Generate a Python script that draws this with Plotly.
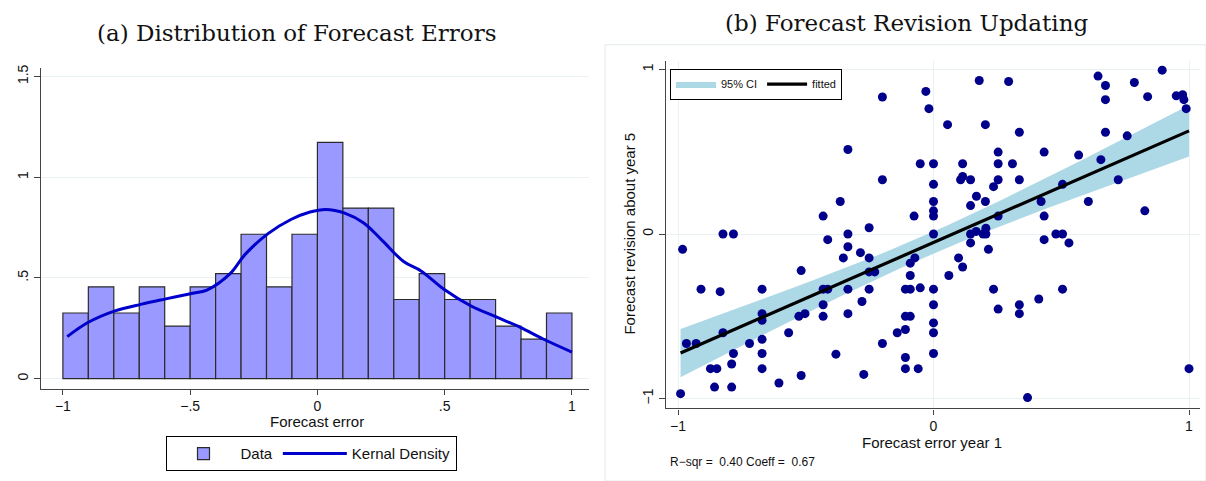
import numpy as np
import plotly.graph_objects as go

# ---------------- Panel (a) data ----------------
bin_left = [-1.0, -0.9, -0.8, -0.7, -0.6, -0.5, -0.4, -0.3, -0.2, -0.1,
            0.0, 0.1, 0.2, 0.3, 0.4, 0.5, 0.6, 0.7, 0.8, 0.9]
bin_density = [0.326, 0.456, 0.326, 0.456, 0.261, 0.456, 0.521, 0.717, 0.456, 0.717,
               1.173, 0.847, 0.847, 0.393, 0.521, 0.393, 0.393, 0.261, 0.196, 0.326]
kde_x = [-0.983, -0.9, -0.795, -0.69, -0.6, -0.494, -0.434, -0.344, -0.284, -0.194,
         -0.104, -0.029, 0.032, 0.107, 0.182, 0.257, 0.34, 0.407, 0.497, 0.602,
         0.707, 0.797, 0.887, 1.0]
kde_y = [0.209, 0.28, 0.337, 0.37, 0.395, 0.423, 0.44, 0.52, 0.617, 0.72,
         0.79, 0.827, 0.84, 0.822, 0.773, 0.683, 0.58, 0.535, 0.444, 0.362,
         0.304, 0.255, 0.197, 0.132]
a_yticks = [0, 0.5, 1, 1.5]
a_yticklabels = ["0", ".5", "1", "1.5"]
a_xticks = [-1, -0.5, 0, 0.5, 1]
a_xticklabels = ["\u22121", "\u2212.5", "0", ".5", "1"]

# ---------------- Panel (b) data ----------------
err_year1 = [
    -0.982, -0.99, -0.967, -0.929, -0.91, -0.835, -0.824, -0.783, -0.824, -0.783,
    -0.79, -0.873, -0.848, -0.857, -0.79, -0.72, -0.671, -0.671, -0.671, -0.671,
    -0.671, -0.671, -0.605, -0.567, -0.518, -0.527, -0.503, -0.518, -0.432, -0.414,
    -0.432, -0.414, -0.432, -0.432, -0.382, -0.365, -0.335, -0.335, -0.335, -0.353,
    -0.335, -0.335, -0.286, -0.252, -0.252, -0.252, -0.23, -0.252, -0.28, -0.273,
    -0.2, -0.2, -0.2, -0.142, -0.11, -0.091, -0.11, -0.091, -0.11, -0.11,
    -0.11, -0.06, -0.091, -0.091, -0.073, -0.076, -0.052, -0.052, -0.03, -0.018,
    0.0, 0.0, 0.0, 0.0, 0.0, 0.0, 0.0, 0.0, 0.0, 0.0,
    0.0, 0.055, 0.06, 0.098, 0.114, 0.114, 0.106, 0.114, 0.145, 0.145,
    0.145, 0.145, 0.168, 0.167, 0.179, 0.194, 0.205, 0.205, 0.203, 0.203,
    0.215, 0.235, 0.235, 0.253, 0.253, 0.253, 0.253, 0.253, 0.294, 0.309,
    0.336, 0.336, 0.336, 0.336, 0.368, 0.412, 0.421, 0.433, 0.433, 0.433,
    0.479, 0.505, 0.505, 0.505, 0.53, 0.568, 0.606, 0.644, 0.655, 0.673,
    0.673, 0.673, 0.723, 0.758, 0.786, 0.827, 0.838, 0.895, 0.95, 0.975,
    0.98, 0.989, 1.0]
rev_year5 = [
    -0.093, -0.97, -0.665, -0.665, -0.335, -0.35, 0.0, 0.0, -0.6, -0.726,
    -0.79, -0.818, -0.818, -0.93, -0.93, -0.665, -0.335, -0.484, -0.524, -0.64,
    -0.726, -0.818, -0.905, -0.6, -0.222, -0.5, -0.484, -0.86, 0.109, -0.034,
    -0.335, -0.335, -0.43, -0.5, -0.73, 0.198, 0.514, 0.0, -0.077, -0.145,
    -0.335, -0.484, -0.113, 0.038, -0.145, -0.23, -0.23, -0.335, -0.41, -0.853,
    0.833, 0.33, -0.665, -0.6, -0.335, -0.335, -0.5, -0.5, -0.58, -0.75,
    -0.818, -0.818, -0.252, -0.177, -0.145, 0.109, 0.427, -0.327, 0.867, 0.762,
    0.427, 0.302, 0.198, 0.141, 0.109, 0.0, -0.335, -0.43, -0.54, -0.6,
    -0.726, 0.665, -0.252, -0.145, -0.2, 0.427, 0.33, 0.35, 0.33, 0.173,
    0.0, -0.054, 0.23, 0.016, 0.933, 0.0, 0.0, 0.036, 0.665, 0.198,
    -0.093, 0.288, -0.335, 0.498, 0.427, 0.33, 0.109, -0.456, 0.927, 0.427,
    0.619, 0.33, -0.43, -0.484, -0.994, -0.395, 0.198, 0.498, 0.109, -0.034,
    0.0, 0.0, 0.302, -0.335, -0.054, 0.48, 0.198, 0.96, 0.452, 0.903,
    0.817, 0.619, 0.33, 0.597, 0.921, 0.141, 0.835, 0.996, 0.84, 0.847,
    0.817, 0.762, -0.818]
b_ticks = [-1, 0, 1]
b_ticklabels = ["\u22121", "0", "1"]
stats_text = "R\u2212sqr =  0.40 Coeff =  0.67"

# ---------------- Regression fit with 95% CI ----------------
xs = np.array(err_year1)
ys = np.array(rev_year5)
n = len(xs)
slope, intercept = np.polyfit(xs, ys, 1)
resid = ys - (intercept + slope * xs)
s2 = np.sum(resid ** 2) / (n - 2)
xbar = xs.mean()
sxx = np.sum((xs - xbar) ** 2)
xgrid = np.linspace(xs.min(), xs.max(), 60)
yfit = intercept + slope * xgrid
se = np.sqrt(s2 * (1.0 / n + (xgrid - xbar) ** 2 / sxx))
tcrit = 1.976
lo = yfit - tcrit * se
hi = yfit + tcrit * se

W, H = 1206, 481
fig = go.Figure()

# Histogram bars
fig.add_trace(go.Bar(
    x=[b + 0.05 for b in bin_left], y=bin_density, width=0.1,
    marker=dict(color="#9999ff", line=dict(color="#2b2b2b", width=1.2)),
    name="Data", xaxis="x", yaxis="y", legend="legend"))
fig.add_trace(go.Scatter(
    x=kde_x, y=kde_y, mode="lines", line=dict(color="#0000cc", width=3, shape="spline"),
    name="Kernal Density", xaxis="x", yaxis="y", legend="legend"))

# CI band
fig.add_trace(go.Scatter(
    x=list(xgrid) + list(xgrid[::-1]), y=list(hi) + list(lo[::-1]),
    fill="toself", fillcolor="#add8e6", line=dict(width=0, color="#add8e6"),
    mode="lines", name="95% CI", xaxis="x2", yaxis="y2", legend="legend2"))
fig.add_trace(go.Scatter(
    x=err_year1, y=rev_year5, mode="markers",
    marker=dict(color="#00008b", size=9), showlegend=False,
    xaxis="x2", yaxis="y2"))
fig.add_trace(go.Scatter(
    x=xgrid, y=yfit, mode="lines", line=dict(color="black", width=3.2),
    name="fitted", xaxis="x2", yaxis="y2", legend="legend2"))

sans = "Liberation Sans, Arial, sans-serif"
tickfont = dict(family=sans, size=14, color="#111")
axcol = "#444"
grid = "#eaf1f3"

fig.update_layout(
    width=W, height=H, margin=dict(l=0, r=0, t=0, b=0),
    paper_bgcolor="white", plot_bgcolor="white",
    font=dict(family=sans, color="#111"),
    xaxis=dict(domain=[41 / W, 589 / W], range=[-1.086, 1.067],
               tickvals=a_xticks, ticktext=a_xticklabels, ticks="outside", ticklen=5,
               tickcolor=axcol, showline=True, linecolor=axcol, linewidth=1.2,
               showgrid=False, zeroline=False, tickfont=tickfont, anchor="y"),
    yaxis=dict(domain=[1 - 388 / H, 1 - 65 / H], range=[-0.049, 1.544],
               tickvals=a_yticks, ticktext=a_yticklabels, ticks="outside", ticklen=6,
               tickcolor=axcol, showline=True, linecolor=axcol, linewidth=1.2,
               showgrid=True, gridcolor=grid, zeroline=False, tickangle=-90,
               tickfont=tickfont, anchor="x"),
    xaxis2=dict(domain=[666 / W, 1200 / W], range=[-1.047, 1.043],
                tickvals=b_ticks, ticktext=b_ticklabels, ticks="outside", ticklen=5,
                tickcolor=axcol, showline=True, linecolor=axcol, linewidth=1.2,
                showgrid=True, gridcolor=grid, zeroline=False, tickfont=tickfont,
                anchor="y2"),
    yaxis2=dict(domain=[1 - 408 / H, 1 - 58 / H], range=[-1.06, 1.054],
                tickvals=b_ticks, ticktext=b_ticklabels, ticks="outside", ticklen=6,
                tickcolor=axcol, showline=True, linecolor=axcol, linewidth=1.2,
                showgrid=True, gridcolor=grid, zeroline=False, tickangle=-90,
                tickfont=tickfont, anchor="x2"),
    legend=dict(orientation="h", x=311 / W, xanchor="center", y=1 - 436 / H, yanchor="top",
                bordercolor="black", borderwidth=1, bgcolor="white",
                font=dict(size=15, family=sans),
                itemwidth=64, tracegroupgap=0),
    legend2=dict(orientation="h", x=670 / W, xanchor="left", y=1 - 66 / H, yanchor="top",
                 bordercolor="black", borderwidth=1, bgcolor="white",
                 font=dict(size=11, family=sans),
                 itemwidth=40),
    showlegend=True,
)

serif = "DejaVu Serif, serif"
fig.add_annotation(text="(a) Distribution of Forecast Errors", x=296 / W, y=1 - 30 / H,
                   xref="paper", yref="paper", xanchor="center", yanchor="middle",
                   showarrow=False, font=dict(family=serif, size=23, color="#111"))
fig.add_annotation(text="(b) Forecast Revision Updating", x=906 / W, y=1 - 20 / H,
                   xref="paper", yref="paper", xanchor="center", yanchor="middle",
                   showarrow=False, font=dict(family=serif, size=23, color="#111"))
fig.add_annotation(text="Forecast error", x=317 / W, y=1 - 421 / H, xref="paper", yref="paper",
                   xanchor="center", yanchor="middle", showarrow=False, font=dict(size=15))
fig.add_annotation(text="Forecast error year 1", x=932 / W, y=1 - 442 / H, xref="paper",
                   yref="paper", xanchor="center", yanchor="middle", showarrow=False,
                   font=dict(size=15))
fig.add_annotation(text="Forecast revision about year 5", x=630 / W, y=1 - 232 / H,
                   xref="paper", yref="paper", xanchor="center", yanchor="middle",
                   showarrow=False, textangle=-90, font=dict(size=15))
fig.add_annotation(text=stats_text, x=668 / W, y=1 - 462 / H, xref="paper", yref="paper",
                   xanchor="left", yanchor="middle", showarrow=False, font=dict(size=12))

# faint panel frame of right graph region
fig.add_shape(type="rect", xref="paper", yref="paper", x0=605 / W, x1=1.0,
              y0=0.0, y1=1 - 42 / H, line=dict(color="#e3eaec", width=1), layer="below")

fig.write_html("out.html")
